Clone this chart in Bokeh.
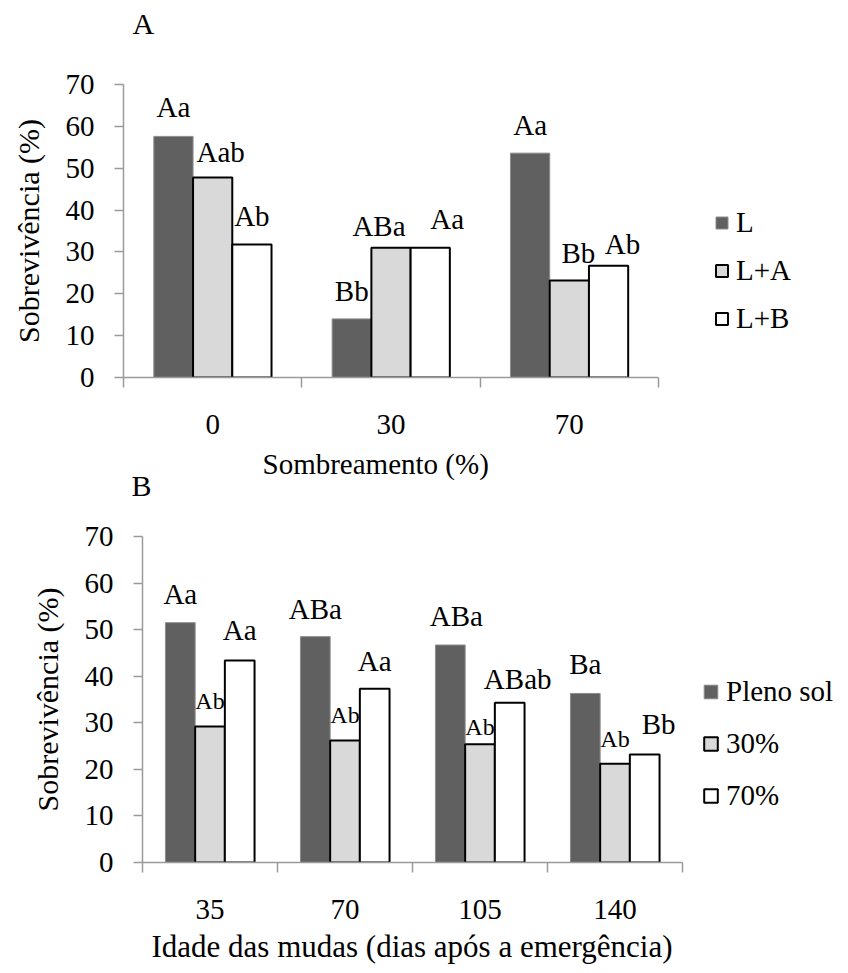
import numpy as np
from bokeh.plotting import figure
from bokeh.models import (Range1d, FixedTicker, ColumnDataSource, LabelSet, Legend,
                          LegendItem, Title)
from bokeh.layouts import column
from bokeh.core.properties import value
from bokeh.embed import file_html
from bokeh.resources import INLINE

FONT = "Liberation Serif"

# ---------------- Data: panel A ----------------
a_categories = ["0", "30", "70"]
a_series = ["L", "L+A", "L+B"]
a_L = [57.6, 14.0, 53.6]
a_LA = [47.8, 31.0, 23.2]
a_LB = [31.8, 31.0, 26.7]
a_L_labels = ["Aa", "Bb", "Aa"]
a_LA_labels = ["Aab", "ABa", "Bb"]
a_LB_labels = ["Ab", "Aa", "Ab"]

# ---------------- Data: panel B ----------------
b_categories = ["35", "70", "105", "140"]
b_series = ["Pleno sol", "30%", "70%"]
b_pleno = [51.5, 48.5, 46.7, 36.3]
b_30 = [29.2, 26.2, 25.4, 21.2]
b_70 = [43.4, 37.3, 34.3, 23.2]
b_pleno_labels = ["Aa", "ABa", "ABa", "Ba"]
b_30_labels = ["Ab", "Ab", "Ab", "Ab"]
b_70_labels = ["Aa", "Aa", "ABab", "Bb"]

y_ticks = list(range(0, 71, 10))

# ---------------- Styles ----------------
FILLS = ["#606060", "#d9d9d9", "#ffffff"]
LINES = ["#8c8c8c", "#000000", "#000000"]
LWIDTHS = [1, 2, 2]
AXIS_GREY = "#9a9a9a"
BAR_W = 0.22
OFFSETS = [-0.22, 0.0, 0.22]

a_dx = [[0, 0, 0], [8, -12, 9], [0, 17, 14]]
a_gap = [[19, 18, 18], [15, 12, 17], [18, 19, 12]]
a_lab_size = ["29px", "29px", "29px"]
b_dx = [[0, 0, 6, 0], [0, 0, 0, 0], [0, 0, 8, 14]]
b_gap = [[19, 18, 19, 19], [18, 17, 9, 17], [20, 18, 14, 20]]
b_lab_size = ["29px", "24px", "29px"]


def make_panel(cats, names, series, labels, dxs, gaps, lab_sizes, letter, xlabel,
               w, fh, bl, br, bt, bb, data_w, x_std, xl_off, xl_std, xl_size,
               title_off, title_std, leg_xy, leg_spacing, glyph):
    n = len(cats)
    xc = np.arange(n) + 0.5
    frame_w = w - bl - br
    # frame is wider than the data area so that the legend sits inside it
    x_end = n * frame_w / data_w
    p = figure(output_backend="svg", toolbar_location=None,
               width=w, height=bt + fh + bb,
               min_border_left=bl, min_border_right=br,
               min_border_top=bt, min_border_bottom=bb,
               x_range=Range1d(0, x_end), y_range=Range1d(0, 70))
    p.outline_line_color = None
    p.border_fill_alpha = 0
    p.xgrid.visible = False
    p.ygrid.visible = False

    p.title = Title(text=letter, align="left", offset=title_off, standoff=title_std,
                    text_font=FONT, text_font_size="30px", text_font_style="normal",
                    text_color="black")

    items = []
    for j in range(len(names)):
        src = ColumnDataSource(dict(x=xc + OFFSETS[j], top=series[j], lab=labels[j],
                                    dx=dxs[j], dy=gaps[j]))
        r = p.vbar(x="x", top="top", bottom=0, width=BAR_W, source=src,
                   fill_color=FILLS[j], line_color=LINES[j], line_width=LWIDTHS[j])
        items.append(LegendItem(label=names[j], renderers=[r]))
        ls = LabelSet(x="x", y="top", text="lab", x_offset="dx", y_offset="dy",
                      source=src, text_align="center", text_baseline="alphabetic",
                      text_font=value(FONT), text_font_size=value(lab_sizes[j]),
                      text_color="black")
        p.add_layout(ls)

    ya = p.yaxis[0]
    ya.ticker = FixedTicker(ticks=y_ticks)
    ya.axis_label = "Sobrevivência (%)"
    ya.axis_label_text_font = FONT
    ya.axis_label_text_font_size = "30px"
    ya.axis_label_text_font_style = "normal"
    ya.axis_label_text_color = "black"
    ya.axis_label_standoff = 18
    ya.major_label_text_font = FONT
    ya.major_label_text_font_size = "29px"
    ya.major_label_text_color = "black"
    ya.major_label_standoff = 20
    ya.axis_line_color = AXIS_GREY
    ya.axis_line_width = 1.5
    ya.major_tick_line_color = AXIS_GREY
    ya.major_tick_line_width = 1.5
    ya.major_tick_out = 9
    ya.major_tick_in = 0
    ya.minor_tick_out = 0
    ya.minor_tick_in = 0

    xa = p.xaxis[0]
    xa.bounds = (0, n)
    xa.ticker = FixedTicker(ticks=list(xc), minor_ticks=list(range(n + 1)))
    xa.major_label_overrides = {float(x): c for x, c in zip(xc, cats)}
    xa.major_label_text_font = FONT
    xa.major_label_text_font_size = "29px"
    xa.major_label_text_color = "black"
    xa.major_label_standoff = x_std
    xa.axis_line_color = AXIS_GREY
    xa.axis_line_width = 1.5
    xa.major_tick_out = 0
    xa.major_tick_in = 0
    xa.minor_tick_out = 10
    xa.minor_tick_in = 0
    xa.minor_tick_line_color = AXIS_GREY
    xa.minor_tick_line_width = 1.5

    # x-axis title, centred under the data area
    p.add_layout(Title(text=xlabel, align="left", offset=xl_off, standoff=xl_std,
                       text_font=FONT, text_font_size=xl_size, text_font_style="normal",
                       text_color="black"), "below")

    leg = Legend(items=items, location=leg_xy, orientation="vertical",
                 glyph_width=glyph, glyph_height=glyph, label_standoff=7,
                 spacing=leg_spacing, padding=0, margin=0,
                 label_text_font=FONT, label_text_font_size="29px",
                 label_text_color="black",
                 border_line_color=None, background_fill_alpha=0)
    p.add_layout(leg, "center")
    return p


pA = make_panel(a_categories, a_series, [a_L, a_LA, a_LB],
                [a_L_labels, a_LA_labels, a_LB_labels], a_dx, a_gap, a_lab_size,
                "A", "Sombreamento (%)",
                w=832, fh=293, bl=134, br=2, bt=128, bb=118, data_w=535,
                x_std=27, xl_off=139, xl_std=19, xl_size="29px",
                title_off=9, title_std=90,
                leg_xy=(591, 42), leg_spacing=15, glyph=15)
pA.margin = (-44, 0, 0, -11)

pB = make_panel(b_categories, b_series, [b_pleno, b_30, b_70],
                [b_pleno_labels, b_30_labels, b_70_labels], b_dx, b_gap, b_lab_size,
                "B", "Idade das mudas (dias após a emergência)",
                w=832, fh=326, bl=134, br=2, bt=108, bb=111, data_w=540,
                x_std=27, xl_off=9, xl_std=10, xl_size="31px",
                title_off=-11, title_std=70,
                leg_xy=(560, 50), leg_spacing=19, glyph=17)
pB.margin = (-67, 0, 0, 8)

layout = column(pA, pB, spacing=0)
open("out.html", "w").write(file_html(layout, INLINE))
